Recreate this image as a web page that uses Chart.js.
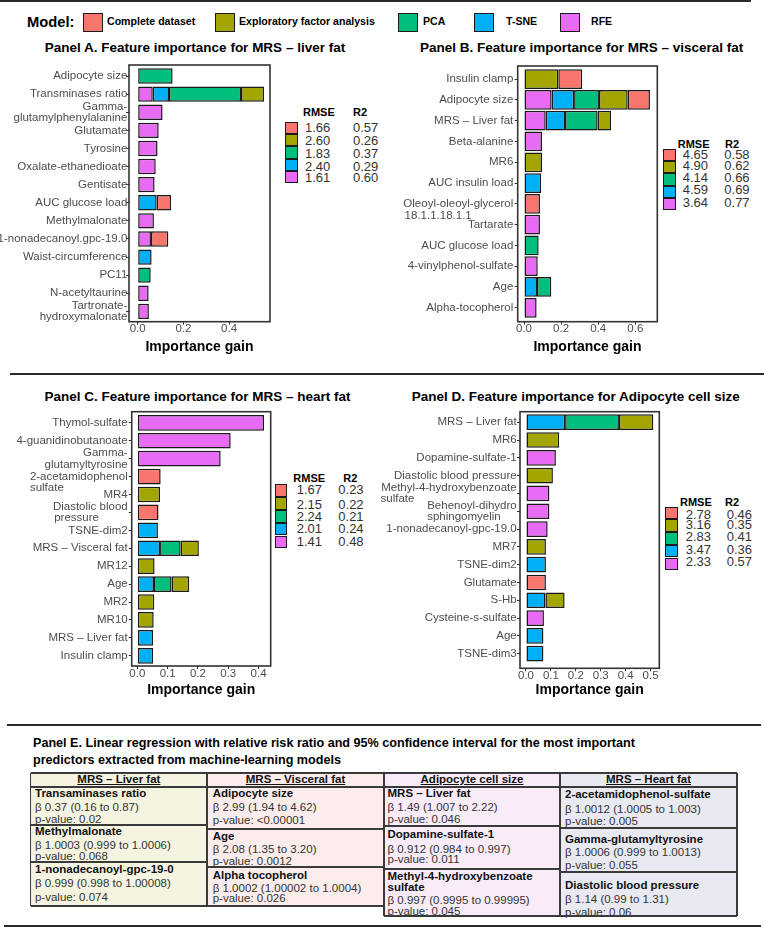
<!DOCTYPE html>
<html>
<head>
<meta charset="utf-8">
<script src="https://cdn.jsdelivr.net/npm/chart.js@4.4.1/dist/chart.umd.min.js"></script>
<style>
  html,body{margin:0;padding:0;background:#fff;}
  #root{position:relative;width:764px;height:934px;overflow:hidden;background:#fff;
        font-family:"Liberation Sans",Arial,Helvetica,sans-serif;}
  .abs{position:absolute;white-space:nowrap;}
  canvas{position:absolute;}
</style>
</head>
<body>
<div id="root"></div>
<script>
// ---------------- DATA ----------------
const modelNames = ['Complete dataset', 'Exploratory factor analysis', 'PCA', 'T-SNE', 'RFE'];
const modelColors = ['#F8766D', '#A3A500', '#00BF7D', '#00B0F6', '#E76BF3'];

// Panel A. MRS – liver fat
const catsA = ['Adipocyte size', 'Transminases ratio', ['Gamma-', 'glutamylphenylalanine'], 'Glutamate', 'Tyrosine',
  'Oxalate-ethanedioate', 'Gentisate', 'AUC glucose load', 'Methylmalonate', '1-nonadecanoyl.gpc-19.0',
  'Waist-circumference', 'PC11', 'N-acetyltaurine', ['Tartronate-', 'hydroxymalonate']];
const A_RFE      = [null, 0.066, 0.109, 0.092, 0.087, 0.079, 0.074, null, 0.071, 0.058, null, null, 0.048, 0.049];
const A_TSNE     = [null, 0.071, null, null, null, null, null, 0.083, null, null, 0.061, null, null, null];
const A_PCA      = [0.153, 0.315, null, null, null, null, null, null, null, null, null, 0.057, null, null];
const A_EFA      = [null, 0.101, null, null, null, null, null, null, null, null, null, null, null, null];
const A_COMPLETE = [null, null, null, null, null, null, null, 0.063, null, 0.076, null, null, null, null];
const ticksA = [0, 0.2, 0.4];
const rmseA = [1.66, 2.60, 1.83, 2.40, 1.61];
const r2A   = [0.57, 0.26, 0.37, 0.29, 0.60];

// Panel B. MRS – visceral fat
const catsB = ['Insulin clamp', 'Adipocyte size', 'MRS – Liver fat', 'Beta-alanine', 'MR6', 'AUC insulin load',
  ['Oleoyl-oleoyl-glycerol', '18.1.1.18.1.1'], 'Tartarate', 'AUC glucose load', '4-vinylphenol-sulfate', 'Age', 'Alpha-tocopherol'];
const B_RFE      = [null, 0.149, 0.117, 0.097, null, null, null, 0.086, null, 0.074, null, 0.068];
const B_TSNE     = [null, 0.121, 0.104, null, null, 0.092, null, null, null, null, 0.070, null];
const B_PCA      = [null, 0.134, 0.176, null, null, null, null, null, 0.079, null, 0.077, null];
const B_EFA      = [0.185, 0.155, 0.072, null, 0.097, null, null, null, null, null, null, null];
const B_COMPLETE = [0.129, 0.120, null, null, null, null, 0.086, null, null, null, null, null];
const ticksB = [0, 0.2, 0.4, 0.6];
const rmseB = [4.65, 4.90, 4.14, 4.59, 3.64];
const r2B   = [0.58, 0.62, 0.66, 0.69, 0.77];

// Panel C. MRS – heart fat
const catsC = ['Thymol-sulfate', '4-guanidinobutanoate', ['Gamma-', 'glutamyltyrosine'], ['2-acetamidophenol', 'sulfate'],
  'MR4', ['Diastolic blood', 'pressure'], 'TSNE-dim2', 'MRS – Visceral fat', 'MR12', 'Age', 'MR2', 'MR10',
  'MRS – Liver fat', 'Insulin clamp'];
const C_RFE      = [0.418, 0.308, 0.275, null, null, null, null, null, null, null, null, null, null, null];
const C_TSNE     = [null, null, null, null, null, null, 0.068, 0.075, null, 0.055, null, null, 0.052, 0.052];
const C_PCA      = [null, null, null, null, null, null, null, 0.068, null, 0.058, null, null, null, null];
const C_EFA      = [null, null, null, null, 0.075, null, null, 0.060, 0.057, 0.058, 0.056, 0.054, null, null];
const C_COMPLETE = [null, null, null, 0.077, null, 0.070, null, null, null, null, null, null, null, null];
const ticksC = [0, 0.1, 0.2, 0.3, 0.4];
const rmseC = [1.67, 2.15, 2.24, 2.01, 1.41];
const r2C   = [0.23, 0.22, 0.21, 0.24, 0.48];

// Panel D. Adipocyte cell size
const catsD = ['MRS – Liver fat', 'MR6', 'Dopamine-sulfate-1', 'Diastolic blood pressure',
  ['Methyl-4-hydroxybenzoate', 'sulfate'], ['Behenoyl-dihydro', 'sphingomyelin'], '1-nonadecanoyl-gpc-19.0',
  'MR7', 'TSNE-dim2', 'Glutamate', 'S-Hb', 'Cysteine-s-sulfate', 'Age', 'TSNE-dim3'];
const D_RFE      = [null, null, 0.120, null, 0.094, 0.094, 0.087, null, null, null, null, 0.072, null, null];
const D_TSNE     = [0.157, null, null, null, null, null, null, null, 0.080, null, 0.078, null, 0.070, 0.070];
const D_PCA      = [0.216, null, null, null, null, null, null, null, null, null, null, null, null, null];
const D_EFA      = [0.138, 0.133, null, 0.108, null, null, null, 0.080, null, null, 0.077, null, null, null];
const D_COMPLETE = [null, null, null, null, null, null, null, null, null, 0.080, null, null, null, null];
const ticksD = [0, 0.1, 0.2, 0.3, 0.4, 0.5];
const rmseD = [2.78, 3.16, 2.83, 3.47, 2.33];
const r2D   = [0.46, 0.35, 0.41, 0.36, 0.57];

// Panel E table
const tableHeaders = ['MRS – Liver fat', 'MRS – Visceral fat', 'Adipocyte cell size', 'MRS – Heart fat'];
const tableNames = [
  [['Transaminases ratio'], ['Methylmalonate'], ['1-nonadecanoyl-gpc-19-0']],
  [['Adipocyte size'], ['Age'], ['Alpha tocopherol']],
  [['MRS – Liver fat'], ['Dopamine-sulfate-1'], ['Methyl-4-hydroxybenzoate', 'sulfate']],
  [['2-acetamidophenol-sulfate'], ['Gamma-glutamyltyrosine'], ['Diastolic blood pressure']]
];
const tableBeta = [
  ['β 0.37 (0.16 to 0.87)', 'β 1.0003 (0.999 to 1.0006)', 'β 0.999 (0.998 to 1.00008)'],
  ['β 2.99 (1.94 to 4.62)', 'β 2.08 (1.35 to 3.20)', 'β 1.0002 (1.00002 to 1.0004)'],
  ['β 1.49 (1.007 to 2.22)', 'β 0.912 (0.984 to 0.997)', 'β 0.997 (0.9995 to 0.99995)'],
  ['β 1.0012 (1.0005 to 1.003)', 'β 1.0006 (0.999 to 1.0013)', 'β 1.14 (0.99 to 1.31)']
];
const tablePvalues = [
  ['p-value: 0.02', 'p-value: 0.068', 'p-value: 0.074'],
  ['p-value: <0.00001', 'p-value: 0.0012', 'p-value: 0.026'],
  ['p-value: 0.046', 'p-value: 0.011', 'p-value: 0.045'],
  ['p-value: 0.005', 'p-value: 0.055', 'p-value: 0.06']
];

// ---------------- PAGE ----------------
const FONT = '"Liberation Sans", Arial, Helvetica, sans-serif';
const root = document.getElementById('root');

function txt(x, y, s, o) {
  o = o || {};
  const d = document.createElement('div');
  d.className = 'abs';
  d.textContent = s;
  const fs = o.size || 12;
  d.style.font = (o.bold ? 'bold ' : '') + fs + 'px ' + FONT;
  d.style.lineHeight = fs + 'px';
  d.style.height = fs + 'px';
  d.style.left = x + 'px';
  d.style.top = (y - fs / 2) + 'px';
  d.style.color = o.color || '#000';
  if (o.underline) d.style.textDecoration = 'underline';
  let tf = '';
  if (o.align === 'center') tf += 'translateX(-50%) ';
  if (o.sx) { tf += 'scaleX(' + o.sx + ')'; d.style.transformOrigin = 'left center'; }
  if (tf) d.style.transform = tf;
  root.appendChild(d);
  return d;
}
function rect(x, y, w, h, bg, border) {
  const d = document.createElement('div');
  d.className = 'abs';
  d.style.left = x + 'px'; d.style.top = y + 'px';
  d.style.width = w + 'px'; d.style.height = h + 'px';
  d.style.boxSizing = 'border-box';
  if (bg) d.style.background = bg;
  if (border) d.style.border = border;
  root.appendChild(d);
  return d;
}

// separator lines
rect(0, 0, 751, 2, '#2a2a2a');
rect(10, 373, 754, 2, '#2a2a2a');
rect(7, 724, 754, 2, '#2a2a2a');
rect(4, 925, 757, 2, '#2a2a2a');

// Model legend
txt(27, 22, 'Model:', {size: 15.5, bold: true, sx: 0.95});
const modelLegendPos = [[83, 106.5], [215, 239], [398, 422.5], [474, 505.5], [560, 591]];
modelNames.forEach((n, i) => {
  rect(modelLegendPos[i][0], 12.5, 20, 19, modelColors[i], '1.5px solid #1a1a1a');
  txt(modelLegendPos[i][1], 22, n, {size: 11.5, bold: true, sx: 0.92});
});

// Panel titles
txt(195, 47.3, 'Panel A. Feature importance for MRS – liver fat', {size: 13.5, bold: true, align: 'center'});
txt(581.7, 47.3, 'Panel B. Feature importance for MRS – visceral fat', {size: 13.5, bold: true, align: 'center'});
txt(197.5, 396.7, 'Panel C. Feature importance for MRS – heart fat', {size: 13.5, bold: true, align: 'center'});
txt(575.8, 396.7, 'Panel D. Feature importance for Adipocyte cell size', {size: 13.5, bold: true, align: 'center'});

// RMSE / R2 legends
function metricLegend(L, rmse, r2) {
  txt(L.hx1, L.hy, 'RMSE', {size: 11, bold: true});
  txt(L.hx2, L.hy, 'R2', {size: 11, bold: true});
  modelColors.forEach((c, i) => {
    rect(L.kx, L.ky + i * L.kh, L.kw, L.kh, c, '1.5px solid #1a1a1a');
    txt(L.vx1, L.rows[i], rmse[i].toFixed(2), {size: 13, color: '#333'});
    txt(L.vx2, L.rows[i], r2[i].toFixed(2), {size: 13, color: '#333'});
  });
}
metricLegend({hx1: 303, hx2: 353, hy: 112.7, kx: 285, ky: 121.7, kw: 13, kh: 12.3, vx1: 305, vx2: 353,
  rows: [127.3, 140.7, 153.3, 166, 177.3]}, rmseA, r2A);
metricLegend({hx1: 677.7, hx2: 725, hy: 144, kx: 663.3, ky: 149, kw: 12.7, kh: 12.2, vx1: 682.7, vx2: 724.3,
  rows: [154.3, 165.7, 177, 189.3, 202.3]}, rmseB, r2B);
metricLegend({hx1: 293.3, hx2: 343.3, hy: 478.3, kx: 275, ky: 484.3, kw: 12.3, kh: 12.8, vx1: 296.7, vx2: 338.3,
  rows: [489.3, 504.3, 516, 528.3, 541.7]}, rmseC, r2C);
metricLegend({hx1: 680, hx2: 725, hy: 502.3, kx: 665, ky: 506.7, kw: 12.7, kh: 12.7, vx1: 685.7, vx2: 726.7,
  rows: [514, 524.3, 536.7, 549.3, 561]}, rmseD, r2D);

// ---------------- CHARTS ----------------
Chart.defaults.font.family = FONT;
const TICK_FONT_SIZE = 11.5;
const measureCtx = document.createElement('canvas').getContext('2d');
measureCtx.font = TICK_FONT_SIZE + 'px ' + FONT;
const NBSP = '\u00A0';
const nbspW = measureCtx.measureText(NBSP).width || 3.2;

// pad lines of a multi-line label so that the block is left-aligned inside itself
function leftBlock(lines) {
  const ws = lines.map(l => measureCtx.measureText(l).width);
  const maxW = Math.max(...ws);
  return lines.map((l, k) => l + NBSP.repeat(Math.max(0, Math.round((maxW - ws[k]) / nbspW))));
}

const boxPlugin = {
  id: 'panelBox',
  afterDatasetsDraw(chart) {
    const {ctx, chartArea: a} = chart;
    ctx.save();
    ctx.strokeStyle = '#333';
    ctx.lineWidth = 1.6;
    ctx.strokeRect(a.left, a.top, a.right - a.left, a.bottom - a.top);
    ctx.restore();
  }
};

function makePanel(cfg) {
  const cv = document.createElement('canvas');
  cv.width = cfg.canvas.w; cv.height = cfg.canvas.h;
  cv.style.left = cfg.canvas.x + 'px'; cv.style.top = cfg.canvas.y + 'px';
  cv.style.width = cfg.canvas.w + 'px'; cv.style.height = cfg.canvas.h + 'px';
  root.appendChild(cv);
  const b = cfg.box;
  // stacking order left -> right: RFE, T-SNE, PCA, EFA, Complete
  const order = [4, 3, 2, 1, 0];
  const datasets = order.map(k => ({
    label: modelNames[k],
    data: cfg.series[k].map((v, i) => (v === null ? null : {x: v, y: i})).filter(p => p !== null),
    backgroundColor: modelColors[k],
    borderColor: '#1a1a1a',
    borderWidth: 1.5,
    borderSkipped: false,
    barPercentage: cfg.barPct,
    categoryPercentage: 1
  }));
  const tickGrid = {display: true, drawOnChartArea: false, drawTicks: true, tickLength: 3, color: '#333', lineWidth: 1, offset: false};
  const labelFor = (v) => {
    const i = Math.round(v);
    let lab = cfg.cats[i];
    if (Array.isArray(lab)) {
      if ((cfg.leftBlock || []).includes(i)) lab = leftBlock(lab);
      if ((cfg.topAnchor || []).includes(i)) lab = [''].concat(lab);
    }
    return lab;
  };
  new Chart(cv, {
    type: 'bar',
    data: {datasets},
    options: {
      indexAxis: 'y',
      responsive: false,
      animation: false,
      devicePixelRatio: 1,
      layout: {autoPadding: false,
               padding: {left: 0, top: b.top - cfg.canvas.y, right: cfg.canvas.x + cfg.canvas.w - b.right, bottom: 0}},
      plugins: {legend: {display: false}, tooltip: {enabled: false}, title: {display: false}},
      scales: {
        x: {
          type: 'linear', stacked: true, position: 'bottom', min: cfg.xMin, max: cfg.xMax, offset: false,
          afterBuildTicks: s => { s.ticks = cfg.xTicks.map(v => ({value: v})); },
          afterFit: s => { s.height = cfg.canvas.y + cfg.canvas.h - b.bottom; s.paddingLeft = 0; s.paddingRight = 0; },
          grid: tickGrid,
          border: {display: false},
          ticks: {padding: cfg.xTickPad, color: '#4d4d4d', font: {size: TICK_FONT_SIZE, lineHeight: 1},
                  autoSkip: false, maxRotation: 0, callback: v => Number(v).toFixed(1)},
          title: {display: true, text: 'Importance gain', color: '#000',
                  font: {size: 14, weight: 'bold', lineHeight: 1.2}, padding: {top: 0, bottom: cfg.titlePad}}
        },
        y: {
          type: 'linear', stacked: true, reverse: true, min: cfg.yMin, max: cfg.yMax, offset: false,
          afterBuildTicks: s => { s.ticks = cfg.cats.map((c, i) => ({value: i})); },
          afterFit: s => { s.width = b.left - cfg.canvas.x; s.paddingTop = 0; s.paddingBottom = 0; },
          grid: tickGrid,
          border: {display: false},
          ticks: {padding: cfg.yTickPad, color: '#4d4d4d', font: {size: TICK_FONT_SIZE, lineHeight: 1},
                  autoSkip: false, callback: labelFor}
        }
      }
    },
    plugins: [boxPlugin]
  });
}

makePanel({canvas: {x: 0, y: 58, w: 380, h: 302}, box: {left: 129, right: 270, top: 65, bottom: 321.7},
  cats: catsA, series: [A_COMPLETE, A_EFA, A_PCA, A_TSNE, A_RFE], xTicks: ticksA,
  xMin: -0.038, xMax: 0.579, yMin: -0.61, yMax: 13.57, barPct: 0.85, xTickPad: -1.5, yTickPad: -1.3, titlePad: 4.6});
makePanel({canvas: {x: 380, y: 58, w: 384, h: 302}, box: {left: 517.7, right: 657.3, top: 66, bottom: 321.7},
  cats: catsB, series: [B_COMPLETE, B_EFA, B_PCA, B_TSNE, B_RFE], xTicks: ticksB,
  xMin: -0.034, xMax: 0.7186, yMin: -0.63, yMax: 11.67, barPct: 0.95, xTickPad: -1.5, yTickPad: 1.4, titlePad: 4.6,
  leftBlock: [6], topAnchor: [6]});
makePanel({canvas: {x: 0, y: 404, w: 380, h: 296}, box: {left: 131.7, right: 270.7, top: 411.7, bottom: 666},
  cats: catsC, series: [C_COMPLETE, C_EFA, C_PCA, C_TSNE, C_RFE], xTicks: ticksC,
  xMin: -0.0185, xMax: 0.44, yMin: -0.62, yMax: 13.57, barPct: 0.876, xTickPad: -0.75, yTickPad: 1, titlePad: 1.6,
  leftBlock: [3, 5], topAnchor: [3]});
makePanel({canvas: {x: 380, y: 404, w: 384, h: 296}, box: {left: 520, right: 659.3, top: 411.7, bottom: 668.3},
  cats: catsD, series: [D_COMPLETE, D_EFA, D_PCA, D_TSNE, D_RFE], xTicks: ticksD,
  xMin: -0.024, xMax: 0.535, yMin: -0.59, yMax: 13.82, barPct: 0.88, xTickPad: -1.25, yTickPad: 0.3, titlePad: 1.6,
  leftBlock: [4, 5]});

// ---------------- PANEL E ----------------
txt(33, 743, 'Panel E. Linear regression with relative risk ratio and 95% confidence interval for the most important', {size: 12.6, bold: true});
txt(33, 760, 'predictors extracted from machine-learning models', {size: 12.6, bold: true});

const colX = [30.7, 207, 384, 560, 737];
const colBg = ['#f4f4e1', '#fcecec', '#f9ebf8', '#e9e9f1'];
const cellBounds = [[787, 825, 862, 906], [787, 829, 867, 906], [787, 826, 869, 916], [787, 828, 872, 916]];
const textX = [35, 212.7, 387.5, 565];
const textY = [
  [[[794], 807.7, 819.3], [[831.7], 846, 856.7], [[869.3], 883.3, 897.7]],
  [[[794], 807.7, 820.7], [[836.7], 850, 861.7], [[876], 889, 898.3]],
  [[[794], 807.7, 819.3], [[835], 850, 860], [[876.7, 887.7], 900.7, 911.7]],
  [[[795], 809.3, 821.7], [[840], 852.7, 866], [[886], 900, 912.7]]
];
const LINE = '#3a3a3a';
for (let c = 0; c < 4; c++) {
  const x0 = colX[c], x1 = colX[c + 1], bnd = cellBounds[c];
  rect(x0, 773, x1 - x0, bnd[3] - 773, colBg[c]);
  txt((x0 + x1) / 2, 780, tableHeaders[c], {size: 11.5, bold: true, underline: true, align: 'center', color: '#111'});
  for (let r = 0; r < 3; r++) {
    const ty = textY[c][r];
    tableNames[c][r].forEach((ln, j) => txt(textX[c], ty[0][j], ln, {size: 11.5, bold: true, color: '#111'}));
    txt(textX[c], ty[1], tableBeta[c][r], {size: 11.5, color: '#333'});
    txt(textX[c], ty[2], tablePvalues[c][r], {size: 11.5, color: '#333'});
    rect(x0, bnd[r + 1] - 0.6, x1 - x0, 1.3, LINE);
  }
  rect(x0 - 0.6, 773, 1.3, bnd[3] - 773, LINE);
}
rect(colX[4] - 0.6, 773, 1.3, 916 - 773, LINE);
rect(colX[0], 772.4, colX[4] - colX[0], 1.3, LINE);
rect(colX[0], 786.4, colX[4] - colX[0], 1.3, LINE);
</script>
</body>
</html>
